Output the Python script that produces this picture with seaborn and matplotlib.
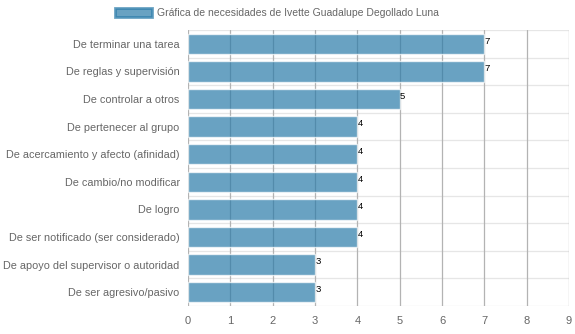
import matplotlib
matplotlib.use("Agg")
import matplotlib.pyplot as plt
import seaborn as sns
import pandas as pd
from matplotlib.patches import Patch

categories = [
    "De terminar una tarea",
    "De reglas y supervisión",
    "De controlar a otros",
    "De pertenecer al grupo",
    "De acercamiento y afecto (afinidad)",
    "De cambio/no modificar",
    "De logro",
    "De ser notificado (ser considerado)",
    "De apoyo del supervisor o autoridad",
    "De ser agresivo/pasivo",
]
values = [7, 7, 5, 4, 4, 4, 4, 4, 3, 3]
series_label = "Gráfica de necesidades de Ivette Guadalupe Degollado Luna"
x_ticks = list(range(0, 10))

df = pd.DataFrame({"cat": categories, "val": values})

sns.set_theme(style="white")
plt.rcParams["font.family"] = ["Liberation Sans", "DejaVu Sans"]

fig = plt.figure(figsize=(5.75, 3.34), dpi=100)
ax = fig.add_axes([188 / 575, 1 - 306 / 334, (569 - 188) / 575, (306 - 30) / 334])

sns.barplot(data=df, x="val", y="cat", orient="h", ax=ax, color="#2a7ba9",
            alpha=0.7, width=0.74, saturation=1, zorder=3)

ax.set_xlim(0, 9)
ax.set_xticks(x_ticks)
ax.set_xlabel("")
ax.set_ylabel("")
ax.set_ylim(len(categories) - 0.5, -0.5)

# grid lines
for x in x_ticks:
    ax.axvline(x, color="#b3b3b3", lw=0.9, zorder=1)
for i in range(len(categories) + 1):
    ax.axhline(i - 0.5, color="#e6e6e6", lw=0.9, zorder=0)

for s in ax.spines.values():
    s.set_visible(False)
ax.tick_params(axis="x", colors="#666666", labelsize=8, length=5, width=0.9, color="#b3b3b3", pad=2)
ax.set_yticks([i - 0.5 for i in range(len(categories) + 1)], minor=True)
ax.tick_params(axis="y", which="major", length=0, labelsize=7.8, colors="#666666", pad=6)
ax.tick_params(axis="y", which="minor", length=7, width=0.9, color="#e6e6e6")

for i, v in enumerate(values):
    ax.text(v + 0.01, i - 0.1, str(v), fontsize=6.8, color="#000000",
            va="center", ha="left", zorder=5)

handle = Patch(facecolor="#2a7ba9", alpha=0.7, edgecolor="#2a7ba9", lw=2)
fig.legend([handle], [series_label], loc="center left", bbox_to_anchor=(106 / 575, 1 - 13 / 334),
           frameon=False, fontsize=7.5, handlelength=3.5, handleheight=0.9,
           handletextpad=0.5, labelcolor="#666666")

fig.savefig("out.png", dpi=100)
